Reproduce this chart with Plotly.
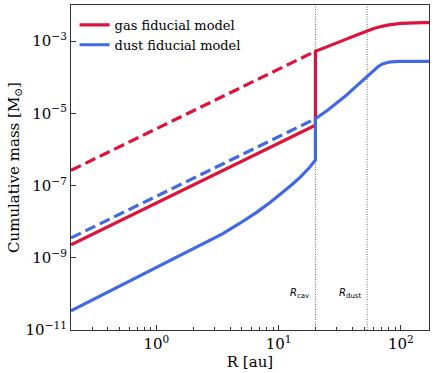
import numpy as np
import plotly.graph_objects as go

# radii [au] and cumulative masses [Msun]
r_cav = 20
r_dust = 53

# gas, solid (inside cavity, jump at r_cav, then outer disc)
r_gas = [0.2, 20, 20, 25, 30, 35, 40, 50, 60, 70, 80, 100, 120, 150, 175]
m_gas = [2.29e-9, 4.68e-6, 5.25e-4, 6.92e-4, 8.71e-4, 1.10e-3, 1.32e-3, 1.82e-3,
         2.24e-3, 2.57e-3, 2.82e-3, 3.09e-3, 3.24e-3, 3.27e-3, 3.27e-3]
# gas, dashed (no cavity)
r_gas_nocav = [0.2, 20]
m_gas_nocav = [2.63e-7, 5.25e-4]

# dust, solid
r_dust_arr = [0.2, 1.86, 2.57, 3.5, 4.79, 6.56, 8.51, 10.8, 12.6, 14.9, 16.4, 17.9, 20,
              20, 25, 30, 35, 40, 45, 50, 55, 60, 65, 70, 75, 80, 90, 100, 175]
m_dust_arr = [3.39e-11, 1.55e-9, 2.69e-9, 4.68e-9, 8.91e-9, 1.78e-8, 3.39e-8, 6.46e-8,
              1.0e-7, 1.66e-7, 2.29e-7, 3.16e-7, 5.13e-7,
              7.08e-6, 1.20e-5, 1.91e-5, 2.95e-5, 4.47e-5, 6.46e-5, 9.12e-5,
              1.23e-4, 1.58e-4, 1.95e-4, 2.29e-4, 2.51e-4, 2.63e-4, 2.72e-4, 2.75e-4, 2.75e-4]
# dust, dashed (no cavity)
r_dust_nocav = [0.2, 20]
m_dust_nocav = [3.55e-9, 7.08e-6]

red = "#DC143C"
blue = "#4169E1"
serif = "DejaVu Serif"

fig = go.Figure()

# vertical reference lines
for rv in [r_cav, r_dust]:
    fig.add_trace(go.Scatter(x=[rv, rv], y=[1e-11, 1e-2], mode="lines",
                             line=dict(color="#666666", width=1, dash="1px,1.5px"),
                             showlegend=False, hoverinfo="skip"))

fig.add_trace(go.Scatter(x=r_gas, y=m_gas, mode="lines", name="gas fiducial model",
                         line=dict(color=red, width=3.2)))
fig.add_trace(go.Scatter(x=r_gas_nocav, y=m_gas_nocav, mode="lines", showlegend=False,
                         line=dict(color=red, width=3.2, dash="11px,5px")))
fig.add_trace(go.Scatter(x=r_dust_arr, y=m_dust_arr, mode="lines", name="dust fiducial model",
                         line=dict(color=blue, width=3.2)))
fig.add_trace(go.Scatter(x=r_dust_nocav, y=m_dust_nocav, mode="lines", showlegend=False,
                         line=dict(color=blue, width=3.2, dash="11px,5px")))

# annotations for the radii
for rv, lab in [(r_cav, "cav"), (r_dust, "dust")]:
    fig.add_annotation(x=np.log10(rv), y=-10, xref="x", yref="y",
                       text="<i>R</i><sub>" + lab + "</sub>", showarrow=False,
                       xanchor="right", yanchor="middle", xshift=-4,
                       font=dict(family="DejaVu Sans", size=10, color="black"))

xmaj = [1, 10, 100]
xminor = [0.3, 0.4, 0.5, 0.6, 0.7, 0.8, 0.9, 2, 3, 4, 5, 6, 7, 8, 9,
          20, 30, 40, 50, 60, 70, 80, 90]
ymaj = [1e-11, 1e-9, 1e-7, 1e-5, 1e-3]

fig.update_xaxes(type="log", range=[np.log10(0.2), np.log10(170)],
                 tickmode="array", tickvals=xmaj,
                 ticktext=["10<sup>0</sup>", "10<sup>1</sup>", "10<sup>2</sup>"],
                 ticks="inside", ticklen=5, tickcolor="#333", showgrid=False,
                 minor=dict(tickmode="array", tickvals=xminor, ticks="inside",
                            ticklen=3, tickcolor="#333", showgrid=False),
                 showline=True, mirror=True, linecolor="#333", linewidth=1.3,
                 zeroline=False,
                 title=dict(text="R [au]", font=dict(family=serif, size=15), standoff=0),
                 tickfont=dict(family=serif, size=15, color="black"))
fig.update_yaxes(type="log", range=[-11, -2],
                 tickmode="array", tickvals=ymaj,
                 ticktext=["10<sup>\u221211</sup>", "10<sup>\u22129</sup>", "10<sup>\u22127</sup>",
                           "10<sup>\u22125</sup>", "10<sup>\u22123</sup>"],
                 ticks="inside", ticklen=5, tickcolor="#333", showgrid=False,
                 showline=True, mirror=True, linecolor="#333", linewidth=1.3,
                 zeroline=False,
                 title=dict(text="Cumulative mass [M<sub>\u2299</sub>]",
                            font=dict(family=serif, size=15), standoff=2),
                 tickfont=dict(family=serif, size=15, color="black"))

fig.update_layout(
    width=436, height=373,
    margin=dict(l=71, r=7, t=5, b=43),
    plot_bgcolor="white", paper_bgcolor="white",
    font=dict(family=serif, color="black"),
    legend=dict(x=0.01, y=0.985, xanchor="left", yanchor="top",
                bgcolor="rgba(255,255,255,0)", font=dict(family=serif, size=13),
                tracegroupgap=0),
)

# drop the default page margin so the figure sits at the window corner
fig.write_html("out.html", config={"displayModeBar": False},
               post_script="document.body.style.margin='0';")
